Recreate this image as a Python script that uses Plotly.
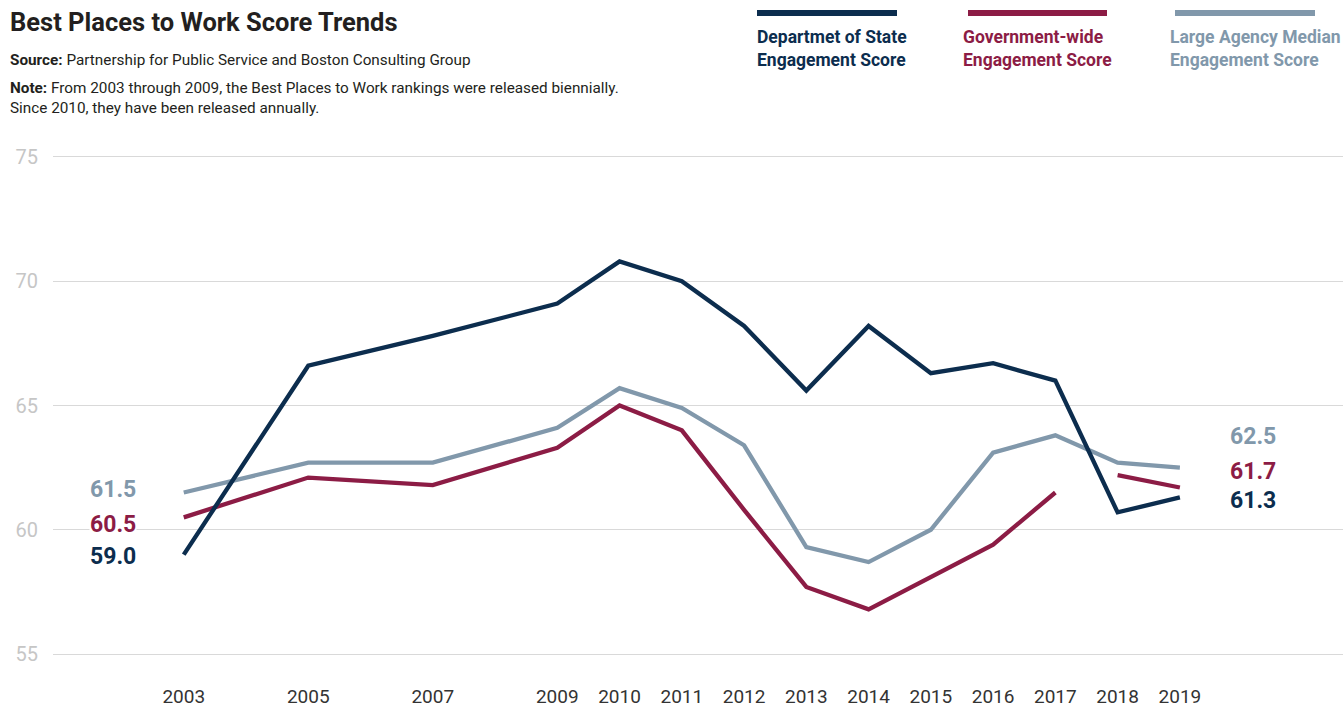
import plotly.graph_objects as go

years = [2003, 2005, 2007, 2009, 2010, 2011, 2012, 2013, 2014, 2015, 2016, 2017, 2018, 2019]
state = [59.0, 66.6, 67.8, 69.1, 70.8, 70.0, 68.2, 65.6, 68.2, 66.3, 66.7, 66.0, 60.7, 61.3]
govwide = [60.5, 62.1, 61.8, 63.3, 65.0, 64.0, 60.8, 57.7, 56.8, 58.1, 59.4, 61.5, 62.2, 61.7]
large_median = [61.5, 62.7, 62.7, 64.1, 65.7, 64.9, 63.4, 59.3, 58.7, 60.0, 63.1, 63.8, 62.7, 62.5]
gap_after = 2017  # government-wide series is broken between 2017 and 2018

series_names = ["Departmet of State<br>Engagement Score",
                "Government-wide<br>Engagement Score",
                "Large Agency Median<br>Engagement Score"]
colors = ["#0c2d4e", "#8c1c45", "#8198ab"]
y_ticks = [55, 60, 65, 70, 75]


def with_gap(xs, ys, after):
    ox, oy = [], []
    for x, y in zip(xs, ys):
        ox.append(x)
        oy.append(y)
        if x == after:
            ox.append(None)
            oy.append(None)
    return ox, oy


fig = go.Figure()
font = "Roboto"

gx, gy = with_gap(years, govwide, gap_after)
traces = [(years, large_median, colors[2]), (gx, gy, colors[1]), (years, state, colors[0])]
for xs, ys, c in traces:
    fig.add_trace(go.Scatter(x=xs, y=ys, mode="lines", line=dict(color=c, width=4.3),
                             connectgaps=False, showlegend=False, hoverinfo="skip"))

# end labels
start_vals = [large_median[0], govwide[0], state[0]]
end_vals = [large_median[-1], govwide[-1], state[-1]]
start_shift = [3, -7, -2]
end_shift = [31, 16, -3]
label_colors = [colors[2], colors[1], colors[0]]
for v, s, c in zip(start_vals, start_shift, label_colors):
    fig.add_annotation(x=years[0], y=v, text=f"<b>{v:.1f}</b>", showarrow=False,
                       xshift=-71, yshift=s, font=dict(family=font, size=23, color=c),
                       bgcolor="white", borderpad=0)
for v, s, c in zip(end_vals, end_shift, label_colors):
    fig.add_annotation(x=years[-1], y=v, text=f"<b>{v:.1f}</b>", showarrow=False,
                       xshift=73, yshift=s, font=dict(family=font, size=23, color=c))

# title / source / note
fig.add_annotation(xref="paper", yref="paper", x=0, y=1, xanchor="left", yanchor="middle",
                   text="<b>Best Places to Work Score Trends</b>", showarrow=False,
                   font=dict(family=font, size=25.5, color="#231f20"))
fig.add_annotation(xref="paper", yref="paper", x=0, y=1, xanchor="left", yanchor="middle",
                   text="<b>Source:</b> Partnership for Public Service and Boston Consulting Group",
                   showarrow=False, font=dict(family=font, size=15.3, color="#231f20"))
fig.add_annotation(xref="paper", yref="paper", x=0, y=1, xanchor="left", yanchor="top",
                   align="left",
                   text="<b>Note:</b> From 2003 through 2009, the Best Places to Work rankings were released biennially.<br>Since 2010, they have been released annually.",
                   showarrow=False, font=dict(family=font, size=15.3, color="#231f20"))

# custom legend
legend_x = [757, 963, 1170]
legend_colors = [colors[0], colors[1], colors[2]]
for lx, name, c in zip(legend_x, series_names, legend_colors):
    fig.add_annotation(xref="paper", yref="paper", x=0, y=1, xanchor="left", yanchor="top",
                       align="left", text=f"<b>{name}</b>", showarrow=False,
                       font=dict(family=font, size=17.5, color=c))

fig.update_layout(
    width=1343, height=706,
    margin=dict(l=53, r=0, t=150, b=46),
    paper_bgcolor="white", plot_bgcolor="white",
    xaxis=dict(range=[2000.9, 2021.62], tickvals=years, ticktext=[str(y) for y in years],
               showgrid=False, zeroline=False, showline=False, ticks="", automargin=False,
               tickfont=dict(family=font, size=19, color="#333333"), ticklabelstandoff=23),
    yaxis=dict(range=[54.76, 75.28], tickvals=y_ticks, showgrid=True, gridcolor="#d9d9d9",
               gridwidth=1, zeroline=False, showline=False, ticks="", automargin=False,
               tickfont=dict(family=font, size=20, color="#c6c6c6"), ticklabelstandoff=14),
)

W, H = 1343, 706
pl, pb, pw, ph = 53, 46, 1343 - 53, 706 - 150 - 46


def px_to_paper(xp, yp):
    return (xp - pl) / pw, (H - pb - yp) / ph


anns = list(fig.layout.annotations)
n_lab = 6
header_pos = [(8, 22), (8, 60), (8, 77)]
for i, (xp, yp) in enumerate(header_pos):
    a = anns[n_lab + i]
    a.x, a.y = px_to_paper(xp, yp)
for j, lx in enumerate(legend_x):
    a = anns[n_lab + 3 + j]
    a.x, a.y = px_to_paper(lx - 2, 25)
fig.layout.annotations = anns

legend_lines = [(757, 897), (968, 1107), (1175, 1315)]
for (x0, x1), c in zip(legend_lines, legend_colors):
    fx0, fy = px_to_paper(x0, 13)
    fx1, _ = px_to_paper(x1, 13)
    fig.add_shape(type="line", xref="paper", yref="paper", x0=fx0, x1=fx1, y0=fy, y1=fy,
                  line=dict(color=c, width=6))

fig.write_html("out.html", config={"displayModeBar": False},
               post_script="document.body.style.margin='0';document.body.style.overflow='hidden';")
